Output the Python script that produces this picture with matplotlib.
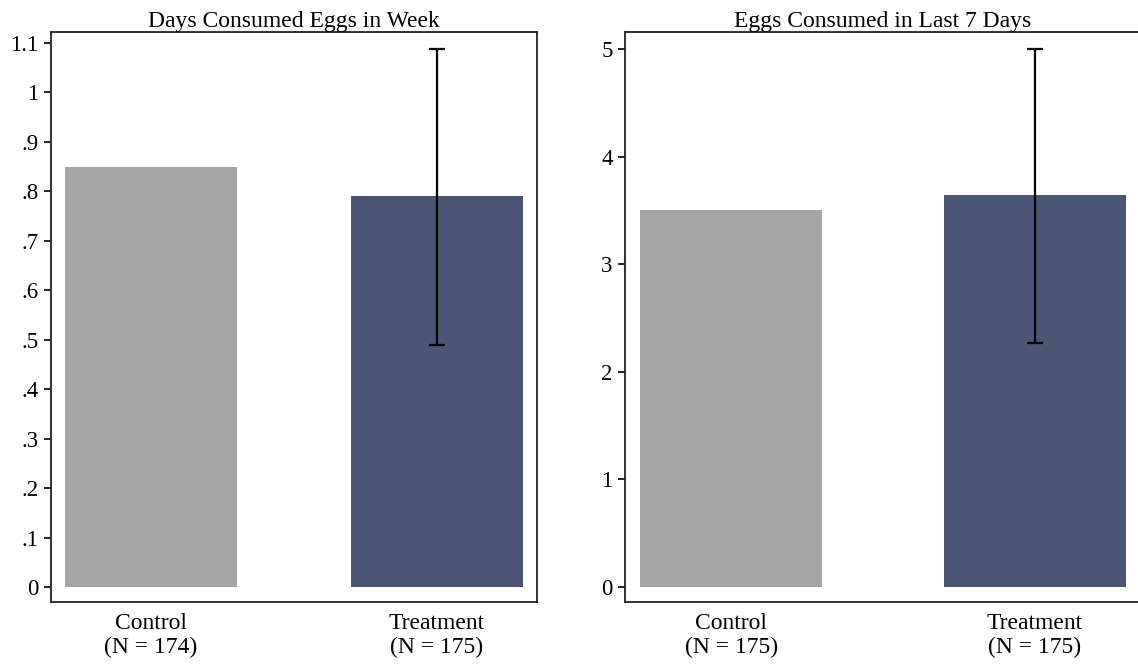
import matplotlib.pyplot as plt
import numpy as np

# data
groups = ["Control", "Treatment"]
days_n = [174, 175]
days_mean = [0.85, 0.79]
days_ci_lo = 0.49
days_ci_hi = 1.088

eggs_n = [175, 175]
eggs_mean = [3.5, 3.64]
eggs_ci_lo = 2.27
eggs_ci_hi = 5.0

days_ticks = [0, .1, .2, .3, .4, .5, .6, .7, .8, .9, 1, 1.1]
days_ticklabels = ["0", ".1", ".2", ".3", ".4", ".5", ".6", ".7", ".8", ".9", "1", "1.1"]
eggs_ticks = [0, 1, 2, 3, 4, 5]

colors = ["#a5a5a5", "#4a5673"]

plt.rcParams['font.family'] = ['Liberation Serif', 'DejaVu Serif']

fig = plt.figure(figsize=(11.38, 6.69), dpi=100)
ax1 = fig.add_axes([51/1138, 67/669, 486/1138, 570/669])
ax2 = fig.add_axes([625/1138, 67/669, 516/1138, 570/669])


def panel(ax, means, ns, lo, hi, title, ylim, ticks, ticklabels):
    x = np.arange(len(groups))
    ax.bar(x, means, width=0.6, color=colors)
    # error bar on the treatment bar
    ax.errorbar([x[1]], [means[1]], yerr=[[means[1] - lo], [hi - means[1]]],
                fmt='none', ecolor='black', elinewidth=1.6, capsize=6, capthick=1.6)
    ax.set_xlim(-0.35, 1.35)
    ax.set_ylim(*ylim)
    ax.set_xticks(x)
    ax.set_xticklabels([f"{g}\n(N = {n})" for g, n in zip(groups, ns)],
                       fontsize=17, linespacing=1.2)
    ax.tick_params(axis='x', length=0, pad=8)
    ax.set_yticks(ticks)
    ax.set_yticklabels(ticklabels, fontsize=16.5)
    ax.tick_params(axis='y', length=5, width=1.2, direction='out', pad=4)
    for s in ax.spines.values():
        s.set_linewidth(1.3)
        s.set_color('#222222')
    ax.set_title(title, fontsize=17, pad=3)


panel(ax1, days_mean, days_n, days_ci_lo, days_ci_hi, "Days Consumed Eggs in Week",
      (-0.0303, 1.122), days_ticks, days_ticklabels)
panel(ax2, eggs_mean, eggs_n, eggs_ci_lo, eggs_ci_hi, "Eggs Consumed in Last 7 Days",
      (-0.139, 5.158), eggs_ticks, [str(t) for t in eggs_ticks])

fig.savefig("out.png", dpi=100)
